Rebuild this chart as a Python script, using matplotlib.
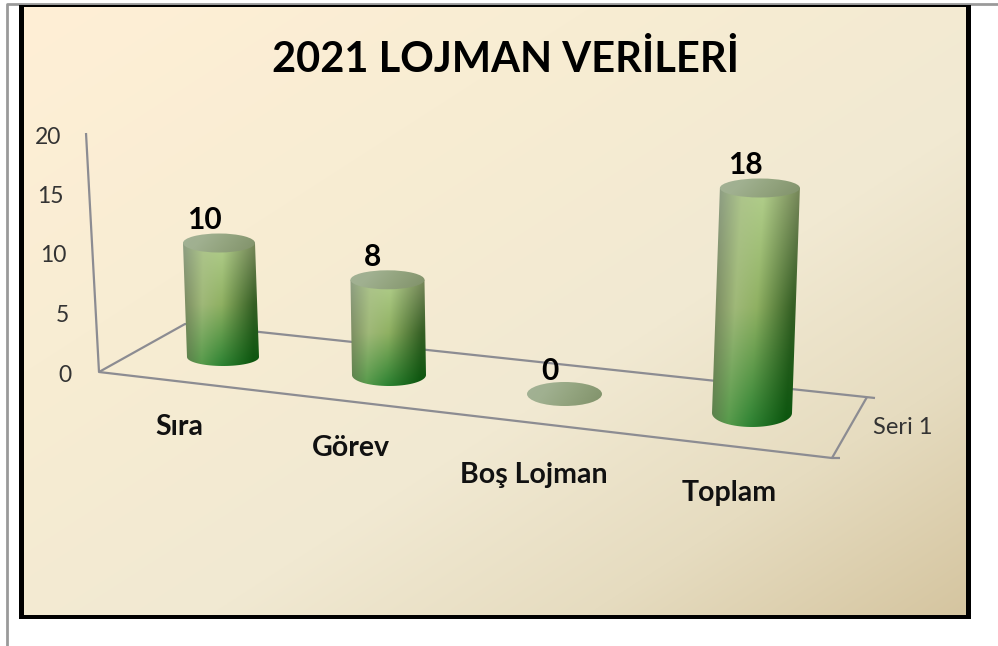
import numpy as np
import matplotlib
matplotlib.use("agg")
import matplotlib.pyplot as plt
from matplotlib.colors import to_rgb
from matplotlib.patches import Ellipse, Polygon, Rectangle

title = "2021 LOJMAN VERİLERİ"
categories = ["Sıra", "Görev", "Boş Lojman", "Toplam"]
values = [10, 8, 0, 18]
y_ticks = [0, 5, 10, 15, 20]
series_name = "Seri 1"

# layout of the fake 3d scene, in pixels of the 998x646 picture
base_x = [223, 389, 564.5, 752]
base_y = [357, 375, 394, 413]
base_rx = [36, 37, 37.5, 40]
base_ry = [9, 11, 12, 14]
unit_h = [11.4, 11.9, 12, 12.5]
lean = [-0.4, -0.19, 0, 0.44]
label_dx = [-44, -38, -31, -23]
label_dy = [70, 73, 81, 80]

plt.rcParams["font.family"] = ["Lato", "DejaVu Sans"]

fig = plt.figure(figsize=(9.98, 6.46), dpi=100)
ax = fig.add_axes([0, 0, 1, 1])


def color_grid(rows):
    return np.array([[to_rgb(c) for c in row] for row in rows])


knots = [0, 0.28, 0.55, 1]
body_colors = color_grid([
    ["#8f9f84", "#aec68c", "#b2cf8c", "#77875a"],
    ["#77875f", "#9fb878", "#8fb062", "#355f24"],
    ["#5a7649", "#559a4a", "#2f8434", "#0a560e"],
])
top_colors = color_grid([
    ["#a3b296", "#a0b090", "#94a580", "#7f9068"],
    ["#a3b296", "#a0b090", "#94a580", "#7f9068"],
    ["#a3b296", "#a0b090", "#94a580", "#7f9068"],
])


def shade(grid, s, t):
    # lookup in a colour grid, s across and t down, both 0..1
    s = np.clip(s, 0, 1)
    t = np.clip(t, 0, 1)
    rows = []
    for r in range(3):
        row = [np.interp(s, knots, grid[r, :, c]) for c in range(3)]
        rows.append(np.stack(row, axis=-1))
    w = (t * 2)[..., None]
    low = rows[0] * (1 - np.clip(w, 0, 1)) + rows[1] * np.clip(w, 0, 1)
    high = rows[1] * (1 - np.clip(w - 1, 0, 1)) + rows[2] * np.clip(w - 1, 0, 1)
    return np.where(w < 1, low, high)


# page lines, black frame and the background with a diagonal gradient
ax.plot([7.5, 7.5, 998], [646, 4, 4], color="#9a9a9a", lw=2, zorder=1)
ax.add_patch(Rectangle((19, 5), 952, 614, fc="black", ec="none", zorder=1))
yy, xx = np.mgrid[0:1:200j, 0:1:300j]
d = (xx + yy) / 2
stops = [0, 0.3, 0.6, 0.8, 1]
cols = np.array([to_rgb(c) for c in ["#ffefd6", "#f8edd3", "#f1e9d2", "#e6dcc0", "#d5c5a0"]])
bg = np.stack([np.interp(d, stops, cols[:, c]) for c in range(3)], axis=-1)
ax.imshow(bg, extent=(24, 966, 615, 7), aspect="auto", zorder=1.5, interpolation="bilinear")

# floor and wall lines
line_kw = dict(color="#8c8c92", lw=1.6, zorder=3, solid_capstyle="butt")
ax.plot([86, 99, 832], [133, 372, 458], **line_kw)
ax.plot([99, 185, 875], [372, 324, 398], **line_kw)
ax.plot([867, 832, 840], [397, 458, 458], **line_kw)

for v in y_ticks:
    f = v / max(y_ticks)
    ax.text(72 - 11 * f, 375 - 238 * f, str(v), ha="right", va="center",
            fontsize=16.5, color="#333333", zorder=6)

ax.text(903, 427, series_name, ha="center", va="center", fontsize=17, color="#333333", zorder=6)
ax.text(506, 59, title, ha="center", va="center", fontsize=30, fontweight="bold", color="black", zorder=6)

for i, (name, val) in enumerate(zip(categories, values)):
    bx, by, rx, ry = base_x[i], base_y[i], base_rx[i], base_ry[i]
    top_x = bx + lean[i] * val
    top_y = by - unit_h[i] * val
    top_ry = 9.5 if val > 0 else ry
    z = 4

    if val > 0:
        x0, x1 = min(bx, top_x) - rx - 3, max(bx, top_x) + rx + 3
        y0, y1 = top_y - top_ry - 2, by + ry + 2
        ny, nx = int(y1 - y0) * 2, int(x1 - x0) * 2
        py, px = np.mgrid[y0:y1:ny * 1j, x0:x1:nx * 1j]
        t = (py - top_y) / (by + ry - top_y)
        cx = top_x + (bx - top_x) * t
        s = (px - cx) / (2 * rx) + 0.5
        im = ax.imshow(shade(body_colors, s + 0.08 * t, t), extent=(x0, x1, y1, y0), aspect="auto",
                       zorder=z, interpolation="bilinear")
        # body outline: two sides and the lower half of the base ellipse
        ang = np.linspace(0, np.pi, 40)
        outline = np.column_stack([bx + rx * np.cos(ang), by + ry * np.sin(ang)])
        outline = np.vstack([[[top_x + rx, top_y]], outline, [[top_x - rx, top_y]]])
        clip = Polygon(outline, closed=True, transform=ax.transData, fc="none", ec="none")
        ax.add_patch(clip)
        im.set_clip_path(clip)

    # top ellipse
    x0, x1 = top_x - rx - 1, top_x + rx + 1
    y0, y1 = top_y - top_ry - 1, top_y + top_ry + 1
    py, px = np.mgrid[y0:y1:60j, x0:x1:160j]
    s = (px - x0) / (x1 - x0) * 0.8 + (py - y0) / (y1 - y0) * 0.2
    im = ax.imshow(shade(top_colors, s, np.zeros_like(s)), extent=(x0, x1, y1, y0), aspect="auto",
                   zorder=z + 1, interpolation="bilinear")
    clip = Ellipse((top_x, top_y), 2 * rx, 2 * top_ry, transform=ax.transData, fc="none", ec="none")
    ax.add_patch(clip)
    im.set_clip_path(clip)

    ax.text(top_x - 15, top_y - 23, str(val), ha="center", va="center", fontsize=21.5,
            fontweight="bold", color="black", zorder=6)
    ax.text(bx + label_dx[i], by + label_dy[i], name, ha="center", va="center", fontsize=20.5,
            fontweight="bold", color="#111111", zorder=6)

ax.set_xlim(0, 998)
ax.set_ylim(646, 0)
ax.axis("off")

fig.savefig("out.png", dpi=100)
